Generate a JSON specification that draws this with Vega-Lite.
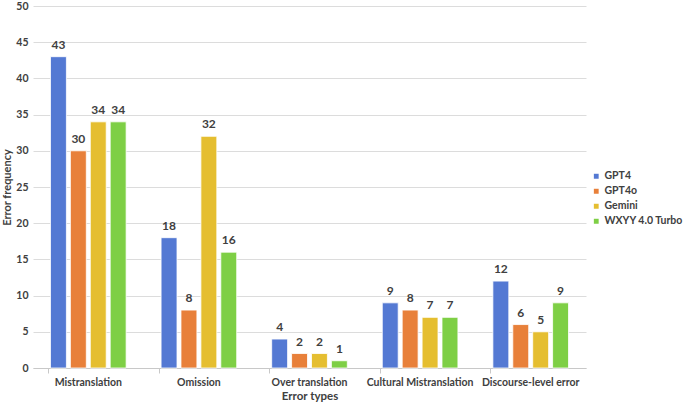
{
  "$schema": "https://vega.github.io/schema/vega-lite/v6.json",
  "width": 553,
  "height": 362,
  "autosize": {"type": "none"},
  "padding": {"left": 33, "top": 6, "right": 99, "bottom": 35},
  "background": "white",
  "config": {
    "font": "Lato",
    "view": {"stroke": null}
  },
  "data": {
    "values": [
      {"type": "Mistranslation", "model": "GPT4", "count": 43},
      {"type": "Mistranslation", "model": "GPT4o", "count": 30},
      {"type": "Mistranslation", "model": "Gemini", "count": 34},
      {"type": "Mistranslation", "model": "WXYY 4.0 Turbo", "count": 34},
      {"type": "Omission", "model": "GPT4", "count": 18},
      {"type": "Omission", "model": "GPT4o", "count": 8},
      {"type": "Omission", "model": "Gemini", "count": 32},
      {"type": "Omission", "model": "WXYY 4.0 Turbo", "count": 16},
      {"type": "Over translation", "model": "GPT4", "count": 4},
      {"type": "Over translation", "model": "GPT4o", "count": 2},
      {"type": "Over translation", "model": "Gemini", "count": 2},
      {"type": "Over translation", "model": "WXYY 4.0 Turbo", "count": 1},
      {"type": "Cultural Mistranslation", "model": "GPT4", "count": 9},
      {"type": "Cultural Mistranslation", "model": "GPT4o", "count": 8},
      {"type": "Cultural Mistranslation", "model": "Gemini", "count": 7},
      {"type": "Cultural Mistranslation", "model": "WXYY 4.0 Turbo", "count": 7},
      {"type": "Discourse-level error", "model": "GPT4", "count": 12},
      {"type": "Discourse-level error", "model": "GPT4o", "count": 6},
      {"type": "Discourse-level error", "model": "Gemini", "count": 5},
      {"type": "Discourse-level error", "model": "WXYY 4.0 Turbo", "count": 9}
    ]
  },
  "encoding": {
    "x": {
      "field": "type",
      "type": "nominal",
      "sort": null,
      "scale": {"paddingInner": 0.28, "paddingOuter": 0.14},
      "title": "Error types",
      "axis": {
        "labelAngle": 0,
        "labelFontSize": 10.5,
        "labelFontWeight": "bold",
        "labelColor": "#404040",
        "labelPadding": 4,
        "titleFontSize": 11.5,
        "titleFontWeight": "bold",
        "titleColor": "#404040",
        "titlePadding": 3,
        "domainColor": "#c8c8c8",
        "tickColor": "#c8c8c8",
        "tickSize": 5,
        "bandPosition": 0
      }
    },
    "xOffset": {
      "field": "model",
      "type": "nominal",
      "sort": ["GPT4", "GPT4o", "Gemini", "WXYY 4.0 Turbo"],
      "scale": {"paddingInner": 0.2, "paddingOuter": 0.1}
    },
    "y": {
      "field": "count",
      "type": "quantitative",
      "scale": {"domain": [0, 50]},
      "title": "Error frequency",
      "axis": {
        "values": [0, 5, 10, 15, 20, 25, 30, 35, 40, 45, 50],
        "domain": false,
        "ticks": false,
        "gridColor": "#dcdcdc",
        "labelFontSize": 10.5,
        "labelFontWeight": "bold",
        "labelColor": "#404040",
        "labelPadding": 5,
        "titleFontSize": 11,
        "titleFontWeight": "bold",
        "titleColor": "#404040",
        "titlePadding": 3
      }
    },
    "color": {
      "field": "model",
      "type": "nominal",
      "sort": ["GPT4", "GPT4o", "Gemini", "WXYY 4.0 Turbo"],
      "scale": {"range": ["#5479d3", "#e8803a", "#e5be30", "#7ecf45"]},
      "legend": {
        "title": null,
        "orient": "none",
        "legendX": 558,
        "legendY": 165,
        "padding": 0,
        "symbolType": "square",
        "symbolSize": 40,
        "labelFontSize": 10.5,
        "labelFontWeight": "bold",
        "labelColor": "#404040",
        "rowPadding": 2,
        "labelOffset": 3
      }
    }
  },
  "layer": [
    {
      "mark": {"type": "bar", "stroke": "white", "strokeWidth": 0.8}
    },
    {
      "mark": {
        "type": "text",
        "baseline": "bottom",
        "dy": -5,
        "fontSize": 12,
        "fontWeight": "bold",
        "color": "#404040"
      },
      "encoding": {
        "text": {"field": "count", "type": "quantitative"},
        "color": {"value": "#404040"}
      }
    }
  ]
}
